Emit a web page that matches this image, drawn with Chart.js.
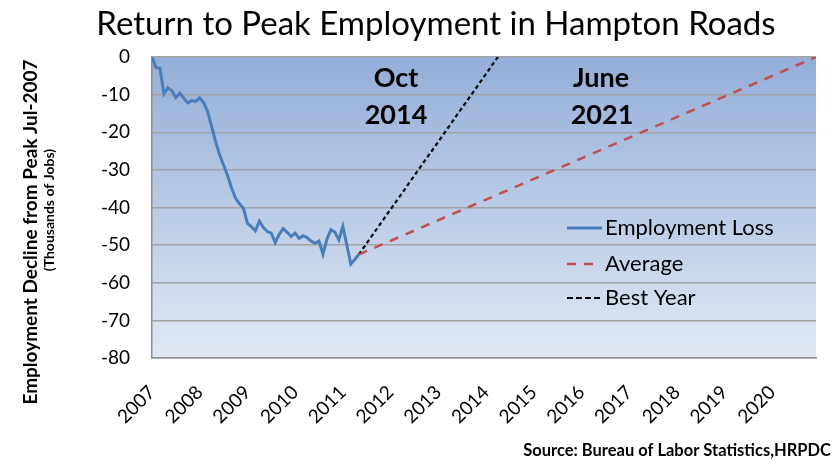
<!DOCTYPE html>
<html>
<head>
<meta charset="utf-8">
<script src="https://cdn.jsdelivr.net/npm/chart.js@4.4.1/dist/chart.umd.min.js"></script>
<style>
  html, body { margin: 0; padding: 0; background: #fff; }
  #wrap { width: 840px; height: 461px; position: relative; }
</style>
</head>
<body>
<div id="wrap"><canvas id="chart" width="840" height="461"></canvas></div>
<script>
// =================== DATA ===================
// x values are months since Jul-2007 (the peak)
const yearLabels = ["2007", "2008", "2009", "2010", "2011", "2012", "2013",
  "2014", "2015", "2016", "2017", "2018", "2019", "2020"];

// monthly employment loss, Jul-2007 .. Nov-2011 (thousands of jobs)
const lossValues = [
  0, -2.8, -3, -9.8, -8.2, -9, -10.8, -9.6, -11, -12.2, -11.6, -11.8,
  -10.9, -12.2, -14.5, -18.5, -22.5, -26, -28.7, -31.5, -34.8, -37.5, -39, -40.2,
  -44.2, -45.1, -46.2, -43.6, -45.3, -46.4, -46.8, -49.3, -47.1, -45.6, -46.6, -47.7,
  -46.8, -48.2, -47.5, -48, -48.9, -49.5, -48.9, -52.4, -48.4, -45.9, -46.6, -48.6,
  -45, -50, -55, -53.8, -52.5
];

// projections: from last observed month back to zero
const averageMonths = [52, 167];   // Nov-2011 -> Jun-2021
const averageValues = [-52.5, 0];
const bestMonths = [52, 87];       // Nov-2011 -> Oct-2014
const bestValues = [-52.5, 0];

const yMin = -80, yMax = 0, yStep = 10;

const toPoints = (xs, ys) => ys.map((v, i) => ({ x: xs[i], y: v }));
const lossPoints = lossValues.map((v, i) => ({ x: i, y: v }));

// =================== PLUGINS ===================
const plotBackground = {
  id: "plotBackground",
  beforeDraw(chart) {
    const { ctx, chartArea: a } = chart;
    const g = ctx.createLinearGradient(0, a.top, 0, a.bottom);
    g.addColorStop(0, "#94aed8");
    g.addColorStop(1, "#e0e8f3");
    ctx.save();
    ctx.fillStyle = g;
    ctx.fillRect(a.left, a.top, a.right - a.left, a.bottom - a.top);
    ctx.restore();
  },
};

const texts = {
  id: "texts",
  afterDraw(chart) {
    const { ctx } = chart;
    ctx.save();
    ctx.fillStyle = "#000";
    ctx.textAlign = "center";
    ctx.textBaseline = "middle";

    // title
    ctx.font = "33px Lato";
    ctx.fillText("Return to Peak Employment in Hampton Roads", 436, 24);

    // y axis titles
    ctx.save();
    ctx.translate(31, 232);
    ctx.rotate(-Math.PI / 2);
    ctx.font = "bold 19px Lato";
    ctx.fillText("Employment Decline from Peak Jul-2007", 0, 0);
    ctx.restore();
    ctx.save();
    ctx.translate(49, 210);
    ctx.rotate(-Math.PI / 2);
    ctx.font = "bold 14px Lato";
    ctx.fillText("(Thousands of Jobs)", 0, 0);
    ctx.restore();

    // target dates
    ctx.font = "bold 27px Lato";
    ctx.fillText("Oct", 396, 78);
    ctx.fillText("2014", 396, 115);
    ctx.fillText("June", 601, 78);
    ctx.fillText("2021", 602, 115);

    // legend
    const rows = [228, 264, 298];
    ctx.textAlign = "left";
    ctx.font = "22px Lato";
    chart.data.datasets.forEach((ds, i) => {
      const y = rows[i];
      ctx.save();
      ctx.strokeStyle = ds.borderColor;
      ctx.lineWidth = ds.borderWidth;
      ctx.setLineDash(ds.legendDash || []);
      ctx.beginPath();
      ctx.moveTo(567, y);
      ctx.lineTo(ds.legendEnd, y);
      ctx.stroke();
      ctx.restore();
      ctx.fillText(ds.label, 605, y);
    });

    // source
    ctx.textAlign = "right";
    ctx.font = "bold 16.5px Lato";
    ctx.fillText("Source: Bureau of Labor Statistics,HRPDC", 831, 451);
    ctx.restore();
  },
};

// =================== CHART ===================
const chart = new Chart(document.getElementById("chart"), {
  type: "line",
  data: {
    datasets: [
      {
        label: "Employment Loss",
        data: lossPoints,
        borderColor: "#4a7ebb",
        borderWidth: 3,
        pointRadius: 0,
        tension: 0,
        legendEnd: 602,
      },
      {
        label: "Average",
        data: toPoints(averageMonths, averageValues),
        borderColor: "#c0504d",
        borderWidth: 2.5,
        borderDash: [9, 8],
        pointRadius: 0,
        legendDash: [9, 8],
        legendEnd: 594,
      },
      {
        label: "Best Year",
        data: toPoints(bestMonths, bestValues),
        borderColor: "#000000",
        borderWidth: 2.2,
        borderDash: [4, 3],
        pointRadius: 0,
        legendDash: [6, 3],
        legendEnd: 603,
      },
    ],
  },
  options: {
    responsive: false,
    animation: false,
    devicePixelRatio: 1,
    layout: { padding: { top: 57, right: 24, left: 0, bottom: 0 } },
    plugins: { legend: { display: false }, tooltip: { enabled: false } },
    scales: {
      x: {
        type: "linear",
        min: 0,
        max: 167,
        afterBuildTicks(scale) {
          scale.ticks = yearLabels.map((_, i) => ({ value: i * 12 }));
        },
        afterFit(scale) { scale.height = 103; },
        ticks: {
          autoSkip: false,
          minRotation: 45,
          maxRotation: 45,
          color: "#000",
          font: { family: "Lato", size: 19 },
          padding: 15,
          callback: (v) => yearLabels[Math.round(v / 12)],
        },
        grid: { display: false },
        border: { display: true, color: "#8c8c8c", width: 1.5 },
      },
      y: {
        min: yMin,
        max: yMax,
        afterFit(scale) { scale.width = 152; },
        ticks: {
          stepSize: yStep,
          color: "#000",
          font: { family: "Lato", size: 19 },
          padding: 22,
        },
        grid: { color: "#a3a3a3", lineWidth: 1.5, drawTicks: false },
        border: { display: true, color: "#8c8c8c", width: 1.5 },
      },
    },
  },
  plugins: [plotBackground, texts],
});
</script>
</body>
</html>
